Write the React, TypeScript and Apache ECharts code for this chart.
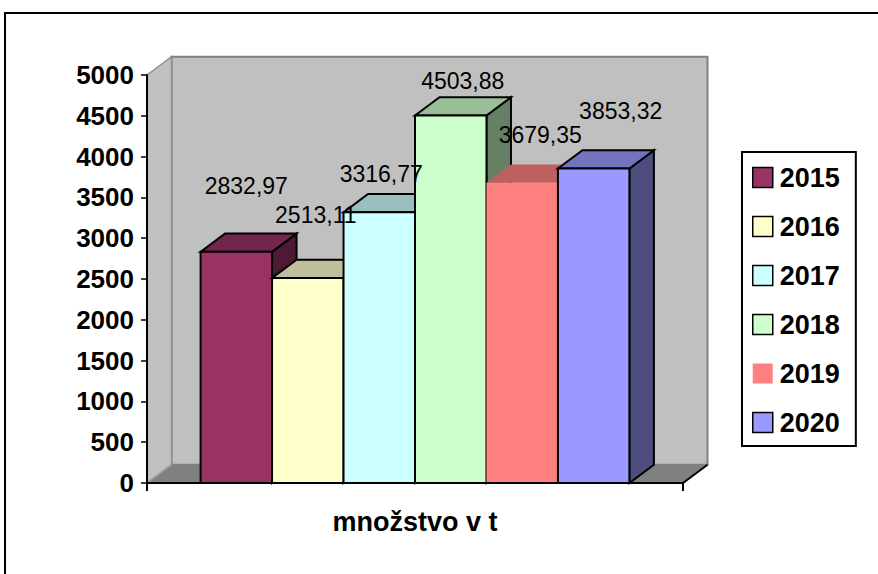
import React, { useEffect, useRef } from "react";
import * as echarts from "echarts";

// ---- data ----
const CATEGORY = ["množstvo v t"];
const YEARS = ["2015", "2016", "2017", "2018", "2019", "2020"];
const VALUES = [2832.97, 2513.11, 3316.77, 4503.88, 3679.35, 3853.32];
const Y_MIN = 0;
const Y_MAX = 5000;
const Y_STEP = 500;

// ---- styles ----
const FRONT_COLORS = ["#993366", "#ffffcc", "#ccffff", "#ccffcc", "#ff8080", "#9999ff"];
const BORDERED = [true, true, true, true, false, true];
const LABEL_SHIFT: [number, number][] = [
  [10, -66],
  [8, -63],
  [2, -38],
  [12, -34],
  [18, -48],
  [27, -58],
];
const DEPTH: [number, number] = [24.5, -18.3];
const GROUP_FRACTION = 0.8;

const shade = (hex: string, f: number) => {
  const n = parseInt(hex.slice(1), 16);
  const r = Math.round(((n >> 16) & 255) * f);
  const g = Math.round(((n >> 8) & 255) * f);
  const b = Math.round((n & 255) * f);
  return `rgb(${r},${g},${b})`;
};

const fmt = (v: number) => v.toFixed(2).replace(".", ",");

const makeBarRender = (si: number) => (params: any, api: any) => {
  const cat = api.value(0);
  const val = api.value(1);
  const top = api.coord([cat, val]);
  const base = api.coord([cat, 0]);
  const band = api.size([1, 0])[0];
  const groupW = band * GROUP_FRACTION;
  const w = groupW / YEARS.length;
  const x0 = top[0] - groupW / 2 + si * w;
  const x1 = x0 + w;
  const yT = top[1];
  const yB = base[1];
  const [dx, dy] = DEPTH;
  const front = FRONT_COLORS[si];
  const stroke = BORDERED[si] ? "#000" : "none";
  const lw = BORDERED[si] ? 2 : 0;
  return {
    type: "group",
    children: [
      {
        type: "polygon",
        shape: { points: [[x1, yT], [x1 + dx, yT + dy], [x1 + dx, yB + dy], [x1, yB]] },
        style: { fill: shade(front, 0.5), stroke, lineWidth: lw, lineJoin: "miter" },
      },
      {
        type: "polygon",
        shape: { points: [[x0, yT], [x0 + dx, yT + dy], [x1 + dx, yT + dy], [x1, yT]] },
        style: { fill: shade(front, 0.75), stroke, lineWidth: lw, lineJoin: "miter" },
      },
      {
        type: "rect",
        shape: { x: x0, y: yT, width: w, height: yB - yT },
        style: { fill: front, stroke, lineWidth: lw, lineJoin: "miter" },
      },
      {
        type: "text",
        z2: 100,
        style: {
          text: fmt(val),
          x: (x0 + x1) / 2 + LABEL_SHIFT[si][0],
          y: yT + LABEL_SHIFT[si][1],
          align: "center",
          verticalAlign: "middle",
          font: '23px "Liberation Sans"',
          fill: "#000",
        },
      },
    ],
  };
};

const wallsRender = (params: any) => {
  const cs = params.coordSys;
  const L = cs.x;
  const R = cs.x + cs.width;
  const T = cs.y;
  const B = cs.y + cs.height;
  const [dx, dy] = DEPTH;
  return {
    type: "group",
    children: [
      {
        type: "rect",
        shape: { x: L + dx, y: T + dy, width: R - L, height: B - T },
        style: { fill: "#c0c0c0", stroke: "#808080", lineWidth: 2 },
      },
      {
        type: "polygon",
        shape: { points: [[L, T], [L + dx, T + dy], [L + dx, B + dy], [L, B]] },
        style: { fill: "#c0c0c0", stroke: "#909090", lineWidth: 1.5 },
      },
      {
        type: "polygon",
        shape: { points: [[L, B], [L + dx, B + dy], [R + dx, B + dy], [R, B]] },
        style: { fill: "#808080", stroke: "none" },
      },
      {
        type: "line",
        shape: { x1: L, y1: B, x2: L + dx, y2: B + dy },
        style: { stroke: "#a0a0a0", lineWidth: 1.5 },
      },
      {
        type: "line",
        shape: { x1: R, y1: B, x2: R + dx, y2: B + dy },
        style: { stroke: "#000", lineWidth: 2 },
      },
    ],
  };
};

export default function App() {
  const ref = useRef<HTMLDivElement>(null);

  useEffect(() => {
    if (!ref.current) return;
    const chart = echarts.init(ref.current, undefined, { renderer: "svg" });

    const barSeries = YEARS.map((year, i) => ({
      name: year,
      type: "custom",
      z: 2,
      itemStyle: { color: FRONT_COLORS[i] },
      renderItem: makeBarRender(i),
      data: [[0, VALUES[i]]],
      encode: { x: 0, y: 1 },
    }));

    chart.setOption({
      animation: false,
      backgroundColor: "#ffffff",
      graphic: [
        {
          type: "rect",
          silent: true,
          shape: { x: 5, y: 13, width: 1000, height: 1000 },
          style: { fill: "none", stroke: "#000", lineWidth: 2 },
        },
      ],
      grid: { left: 147, right: 195, top: 75, bottom: 91, outerBoundsMode: "none" },
      legend: {
        orient: "vertical",
        left: 742,
        top: 152,
        padding: [12, 16, 10, 10],
        itemWidth: 20,
        itemHeight: 20,
        itemGap: 22,
        icon: "rect",
        borderColor: "#000",
        borderWidth: 2,
        selectedMode: false,
        textStyle: {
          fontSize: 27,
          fontWeight: "bold",
          fontFamily: "Liberation Sans",
          color: "#000",
          padding: [0, 0, 0, 2],
        },
        data: YEARS.map((y, i) => ({
          name: y,
          itemStyle: {
            color: FRONT_COLORS[i],
            borderColor: BORDERED[i] ? "#000" : "transparent",
            borderWidth: BORDERED[i] ? 1.5 : 0,
          },
        })),
      },
      xAxis: {
        type: "category",
        data: CATEGORY,
        z: 10,
        axisLine: { show: true, lineStyle: { color: "#000", width: 2 } },
        axisTick: { show: true, length: 8, lineStyle: { color: "#000", width: 2 } },
        axisLabel: {
          margin: 25,
          fontSize: 27,
          fontWeight: "bold",
          fontFamily: "Liberation Sans",
          color: "#000",
        },
        splitLine: { show: false },
      },
      yAxis: {
        type: "value",
        min: Y_MIN,
        max: Y_MAX,
        interval: Y_STEP,
        z: 10,
        axisLine: { show: true, lineStyle: { color: "#000", width: 2 } },
        axisTick: { show: true, length: 6, lineStyle: { color: "#000", width: 1.5 } },
        axisLabel: {
          margin: 13,
          fontSize: 26,
          fontWeight: "bold",
          fontFamily: "Liberation Sans",
          color: "#000",
          formatter: (v: number) => String(v),
        },
        splitLine: { show: false },
      },
      series: [
        {
          name: "walls",
          type: "custom",
          z: 1,
          silent: true,
          renderItem: wallsRender,
          data: [[0, 0]],
          encode: { x: 0, y: 1 },
        },
        ...barSeries,
      ],
    });

    return () => chart.dispose();
  }, []);

  return (
    <div
      ref={ref}
      style={{ position: "fixed", left: 0, top: 0, width: 878, height: 574 }}
    />
  );
}
